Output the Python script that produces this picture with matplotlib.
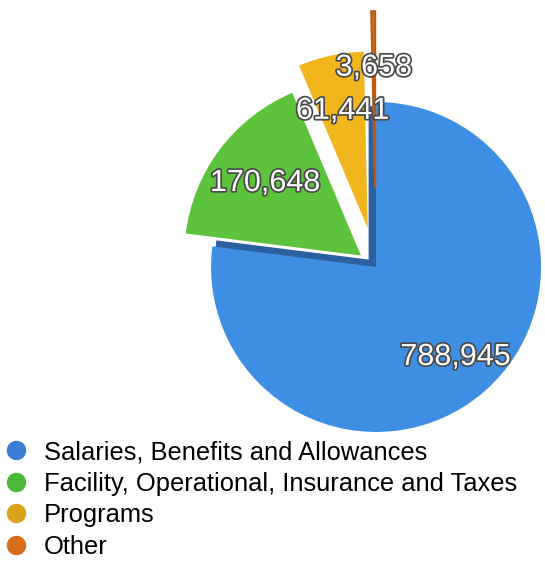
import numpy as np
import matplotlib.pyplot as plt
import matplotlib.patheffects as pe
from matplotlib.lines import Line2D

# Data
categories = ["Salaries, Benefits and Allowances",
              "Facility, Operational, Insurance and Taxes",
              "Programs",
              "Other"]
values = [788945, 170648, 61441, 3658]
labels = ["788,945", "170,648", "61,441", "3,658"]
slice_colors = ["#3e8fe4", "#5ec33c", "#f1b51e", "#d8721e"]
legend_colors = ["#3a7fd5", "#4cb83a", "#dba31a", "#d86d1c"]
explode = [0.0, 0.115, 0.24, 0.48]

plt.rcParams["font.family"] = ["Liberation Sans", "DejaVu Sans"]

fig = plt.figure(figsize=(5.45, 5.62), dpi=100)
ax = fig.add_axes([0, 0, 1, 1])

# dark "side" of the big blue slice, drawn behind
shadow, _ = ax.pie(values, startangle=90, counterclock=False, radius=0.93,
                   center=(-0.045, 0.045), colors=["#2b5f9e"] * 4)
for w in shadow[1:]:
    w.set_visible(False)

wedges, texts = ax.pie(values, startangle=90, counterclock=False, radius=1.07,
                       explode=explode, colors=slice_colors, labels=labels,
                       labeldistance=0.68)
wedges[0].set_radius(1.0)
wedges[3].set_edgecolor("#b85c14")
wedges[3].set_linewidth(1.5)

for t in texts:
    t.set_color("white")
    t.set_fontsize(22)
    t.set_ha("center")
    t.set_va("center")
    t.set_path_effects([pe.withStroke(linewidth=2.5, foreground="#4a4a4a")])

ax.set_aspect("auto")
ax.set_xlim(-2.279, 1.024)
ax.set_ylim(-1.788, 1.618)
ax.axis("off")

handles = [Line2D([], [], linestyle="none", marker="o", markersize=13,
                  markerfacecolor=c, markeredgecolor=c) for c in legend_colors]
fig.legend(handles, categories, loc="lower left", bbox_to_anchor=(-0.025, -0.022),
           frameon=False, fontsize=18.4, handletextpad=0.55, labelspacing=0.3,
           handlelength=1.1, borderaxespad=0.2)

fig.savefig("out.png", dpi=100)
